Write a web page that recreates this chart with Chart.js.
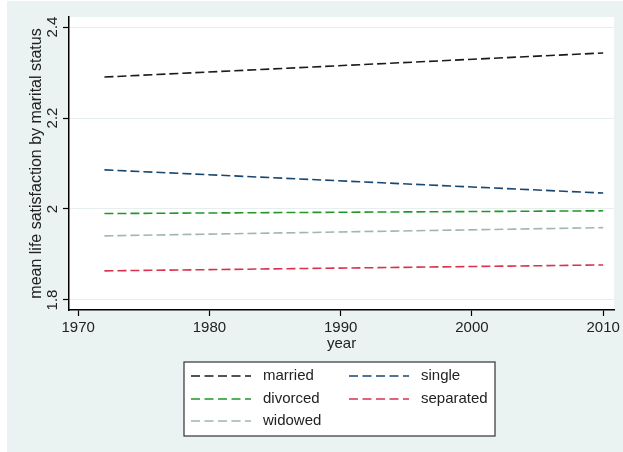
<!DOCTYPE html>
<html>
<head>
<meta charset="utf-8">
<script src="https://cdn.jsdelivr.net/npm/chart.js@4/dist/chart.umd.min.js"></script>
<style>
  html, body { margin: 0; padding: 0; background: #ffffff; }
  #wrap { position: absolute; left: 7px; top: 1px; width: 616px; height: 451px; }
</style>
</head>
<body>
<div id="wrap"><canvas id="c" width="616" height="451"></canvas></div>
<script>
// ---- data ----
const years = [1972, 2010];
const married   = [2.290, 2.343];
const single    = [2.086, 2.035];
const divorced  = [1.990, 1.996];
const separated = [1.864, 1.877];
const widowed   = [1.941, 1.959];
const seriesNames = ['married', 'single', 'divorced', 'separated', 'widowed'];
const yTicks = [1.8, 2.0, 2.2, 2.4];
const xTicks = [1970, 1980, 1990, 2000, 2010];

const FONT = 'Liberation Sans, Arial, sans-serif';
const colors = {
  married: '#1b1b1b',
  single: '#1a476f',
  divorced: '#22962a',
  separated: '#d8324f',
  widowed: '#a0b6ae'
};
const seriesData = { married, single, divorced, separated, widowed };

function pts(arr) { return years.map((y, i) => ({ x: y, y: arr[i] })); }

const datasets = seriesNames.map(n => ({
  label: n,
  data: pts(seriesData[n]),
  borderColor: colors[n],
  backgroundColor: colors[n],
  borderWidth: 1.6,
  borderDash: [9, 4],
  pointRadius: 0,
  fill: false,
  tension: 0
}));

const bgPlugin = {
  id: 'bg',
  beforeDraw(chart) {
    const { ctx, chartArea: a } = chart;
    ctx.save();
    ctx.fillStyle = '#eaf2f2';
    ctx.fillRect(0, 0, chart.width, chart.height);
    ctx.fillStyle = '#ffffff';
    ctx.fillRect(a.left, a.top, a.right - a.left, a.bottom - a.top);
    ctx.restore();
  }
};

// legend in the Stata style: white box with border, two columns
const legendPlugin = {
  id: 'stataLegend',
  afterDraw(chart) {
    const { ctx } = chart;
    const box = { x: 177, y: 361, w: 311, h: 74 };
    ctx.save();
    ctx.fillStyle = '#ffffff';
    ctx.fillRect(box.x, box.y, box.w, box.h);
    ctx.strokeStyle = '#333333';
    ctx.lineWidth = 1.2;
    ctx.strokeRect(box.x, box.y, box.w, box.h);
    const order = ['married', 'single', 'divorced', 'separated', 'widowed'];
    const colX = [184, 342];
    const rowY = [375, 398, 420];
    ctx.font = '15px ' + FONT;
    ctx.textBaseline = 'middle';
    order.forEach((name, i) => {
      const ds = chart.data.datasets.find(d => d.label === name);
      const cx = colX[i % 2];
      const cy = rowY[Math.floor(i / 2)];
      ctx.strokeStyle = ds.borderColor;
      ctx.lineWidth = 1.6;
      ctx.setLineDash([9, 4.5]);
      ctx.beginPath();
      ctx.moveTo(cx, cy);
      ctx.lineTo(cx + 60, cy);
      ctx.stroke();
      ctx.setLineDash([]);
      ctx.fillStyle = '#222222';
      ctx.fillText(ds.label, cx + 72, cy);
    });
    ctx.restore();
  }
};

new Chart(document.getElementById('c'), {
  type: 'line',
  data: { datasets },
  plugins: [bgPlugin, legendPlugin],
  options: {
    responsive: false,
    animation: false,
    devicePixelRatio: 1,
    layout: { padding: { left: 0, right: 7, top: 16, bottom: 97 } },
    plugins: { legend: { display: false }, tooltip: { enabled: false } },
    scales: {
      x: {
        type: 'linear',
        min: 1969.3,
        max: 2010.84,
        afterBuildTicks(scale) { scale.ticks = xTicks.map(v => ({ value: v })); },
        afterFit(scale) { scale.height = 45; },
        border: { display: true, color: '#000000', width: 1.5 },
        grid: { display: true, drawOnChartArea: false, color: '#000000', tickColor: '#000000', tickLength: 6, tickWidth: 1.2 },
        ticks: {
          padding: 3,
          color: '#222222',
          font: { family: FONT, size: 15 },
          maxRotation: 0,
          callback: v => String(v)
        },
        title: {
          display: true,
          text: 'year',
          color: '#222222',
          font: { family: FONT, size: 15 },
          padding: { top: 0, bottom: 2 }
        }
      },
      y: {
        type: 'linear',
        min: 1.778,
        max: 2.422,
        afterBuildTicks(scale) { scale.ticks = yTicks.map(v => ({ value: v })); },
        afterFit(scale) { scale.width = 62; },
        border: { display: true, color: '#000000', width: 1.5 },
        grid: { display: true, drawOnChartArea: true, color: '#e6efee', lineWidth: 1, tickColor: '#000000', tickLength: 6, tickWidth: 1.2 },
        ticks: {
          padding: 0,
          color: '#222222',
          font: { family: FONT, size: 15 },
          minRotation: 90,
          maxRotation: 90,
          crossAlign: 'center',
          callback: v => String(Number(v.toFixed(1)))
        },
        title: {
          display: true,
          text: 'mean life satisfaction by marital status',
          color: '#222222',
          font: { family: FONT, size: 16 },
          padding: { top: 20, bottom: 0 }
        }
      }
    }
  }
});
</script>
</body>
</html>
